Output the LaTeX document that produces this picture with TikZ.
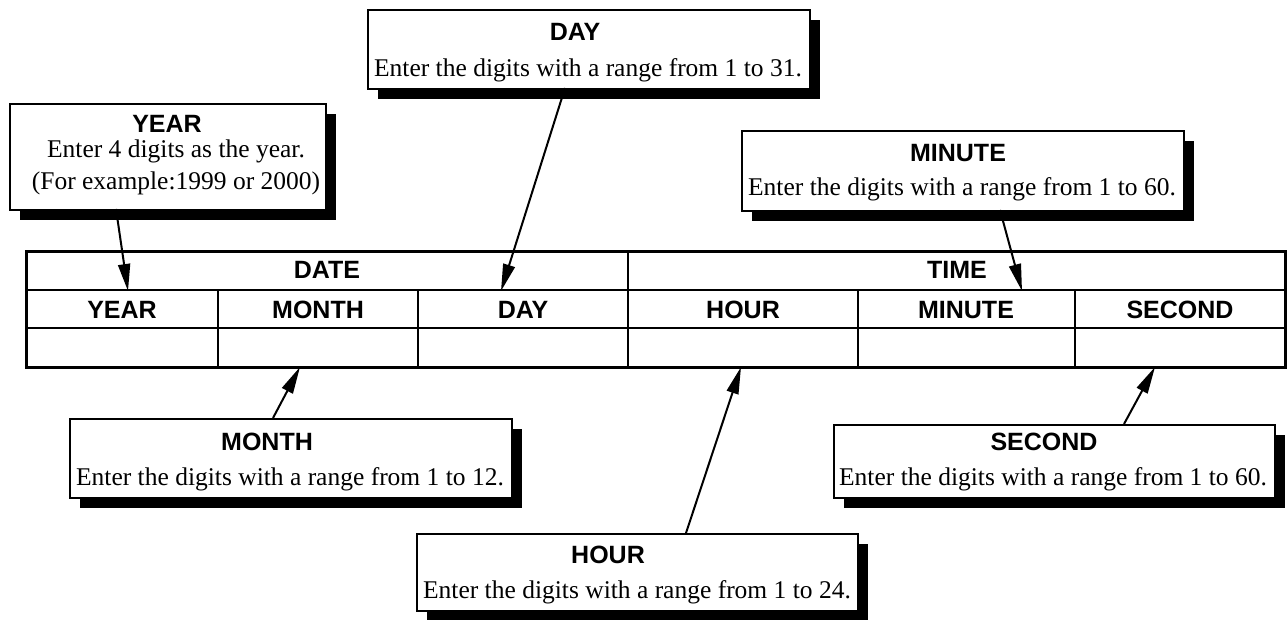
\documentclass[tikz,border=0pt]{standalone}
\usepackage{fontspec}
\setmainfont{Liberation Serif}
\setsansfont{Liberation Sans}
\usetikzlibrary{arrows.meta,shadows}

\begin{document}
\begin{tikzpicture}[x=1pt,y=-1pt,
  callout/.style={draw, line width=1.6pt, fill=white, inner sep=0pt, anchor=north west,
    general shadow={fill=black, shadow xshift=10pt, shadow yshift=-10pt}},
  headtext/.style={font=\sffamily\bfseries\fontsize{25}{30}\selectfont, inner sep=0pt, anchor=base},
  bodytext/.style={font=\fontsize{25.5}{32}\selectfont, inner sep=0pt, anchor=base},
  pointer/.style={line width=2pt, -{Triangle[length=27pt,width=12pt]}},
  frame/.style={line width=3pt},
  rowrule/.style={line width=2.2pt},
  cellrule/.style={line width=1.2pt}]
\useasboundingbox (0,0) rectangle (1287,620);

% ---------- table ----------
\draw[cellrule] (218,290) -- (218,367);
\draw[cellrule] (418,290) -- (418,367);
\draw[cellrule] (858,290) -- (858,367);
\draw[cellrule] (1075,290) -- (1075,367);
\draw[cellrule] (628,252) -- (628,367);
\draw[cellrule] (26,328) -- (1285,328);
\draw[rowrule] (26,290) -- (1285,290);
\draw[frame] (26,252) rectangle (1285,367);

\node[headtext] (date) at (327,279) {DATE};
\node[headtext] (time) at (957,279) {TIME};
\node[headtext] (cyear) at (122,318) {YEAR};
\node[headtext] (cmonth) at (318,318) {MONTH};
\node[headtext] (cday) at (523,318) {DAY};
\node[headtext] (chour) at (743,318) {HOUR};
\node[headtext] (cminute) at (966,318) {MINUTE};
\node[headtext] (csecond) at (1180,318) {SECOND};

% ---------- callout boxes ----------
\node[callout, minimum width=316pt, minimum height=106pt] (yearbox) at (9,103) {};
\node[headtext] (yeart) at (167,133) {YEAR};
\node[bodytext] (yearb1) at (176,158) {Enter 4 digits as the year.};
\node[bodytext] (yearb2) at (176,190) {(For example:1999 or 2000)};

\node[callout, minimum width=442pt, minimum height=79pt] (daybox) at (367,9) {};
\node[headtext] (dayt) at (575,41) {DAY};
\node[bodytext] (dayb) at (588,77) {Enter the digits with a range from 1 to 31.};

\node[callout, minimum width=442pt, minimum height=80pt] (minutebox) at (741,130) {};
\node[headtext] (minutet) at (958,162) {MINUTE};
\node[bodytext] (minuteb) at (962,196) {Enter the digits with a range from 1 to 60.};

\node[callout, minimum width=442pt, minimum height=79pt] (monthbox) at (69,418) {};
\node[headtext] (montht) at (267,450) {MONTH};
\node[bodytext] (monthb) at (290,485) {Enter the digits with a range from 1 to 12.};

\node[callout, minimum width=441pt, minimum height=73pt] (secondbox) at (833,424) {};
\node[headtext] (secondt) at (1044,450) {SECOND};
\node[bodytext] (secondb) at (1053,485) {Enter the digits with a range from 1 to 60.};

\node[callout, minimum width=441pt, minimum height=77pt] (hourbox) at (416,533) {};
\node[headtext] (hourt) at (608,563) {HOUR};
\node[bodytext] (hourb) at (637,598) {Enter the digits with a range from 1 to 24.};

% ---------- pointers ----------
\coordinate (yearfoot) at (116,209);
\coordinate (yeartip) at (128,291);
\coordinate (dayfoot) at (565,88);
\coordinate (daytip) at (501,291);
\coordinate (minutefoot) at (1000,210);
\coordinate (minutetip) at (1022,291);
\coordinate (monthfoot) at (273,418);
\coordinate (monthtip) at (300,367);
\coordinate (hourfoot) at (686,533);
\coordinate (hourtip) at (741,367);
\coordinate (secondfoot) at (1124,424);
\coordinate (secondtip) at (1155,367);

\draw[pointer] (yearfoot) -- (yeartip);
\draw[pointer] (dayfoot) -- (daytip);
\draw[pointer] (minutefoot) -- (minutetip);
\draw[pointer] (monthfoot) -- (monthtip);
\draw[pointer] (hourfoot) -- (hourtip);
\draw[pointer] (secondfoot) -- (secondtip);
\end{tikzpicture}
\end{document}
